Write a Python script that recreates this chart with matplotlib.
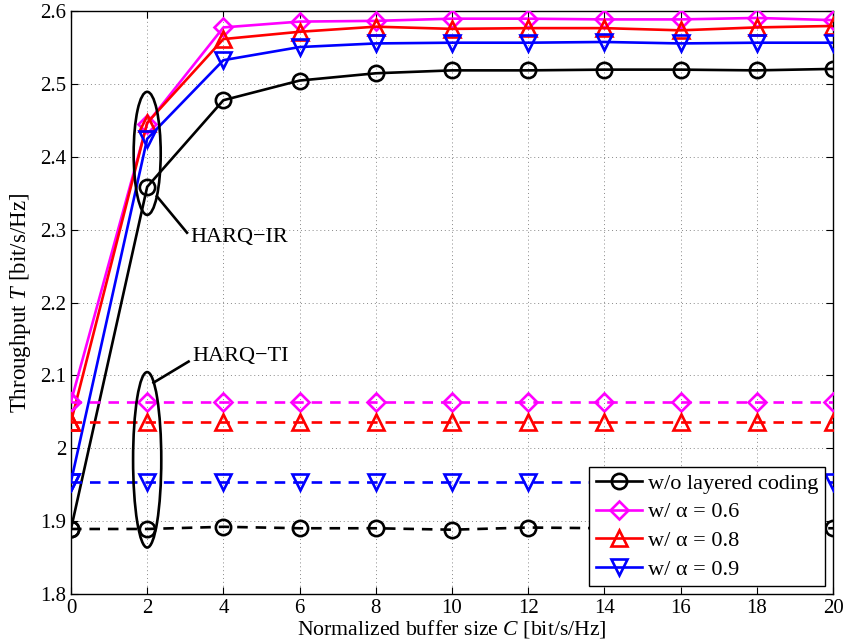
import numpy as np
import matplotlib
matplotlib.use("Agg")
import matplotlib.pyplot as plt
from matplotlib.patches import Ellipse

plt.rcParams['font.family'] = ['Liberation Serif', 'DejaVu Serif']
plt.rcParams['mathtext.fontset'] = 'custom'
plt.rcParams['mathtext.rm'] = 'Liberation Serif'
plt.rcParams['mathtext.it'] = 'Liberation Serif:italic'

C = [0, 2, 4, 6, 8, 10, 12, 14, 16, 18, 20]

ir_none = [1.889, 2.359, 2.478, 2.505, 2.515, 2.519, 2.519, 2.520, 2.520, 2.519, 2.521]
ir_06 = [2.064, 2.446, 2.578, 2.586, 2.587, 2.590, 2.590, 2.589, 2.589, 2.591, 2.588]
ir_08 = [2.036, 2.447, 2.562, 2.572, 2.579, 2.576, 2.577, 2.577, 2.574, 2.578, 2.580]
ir_09 = [1.954, 2.425, 2.533, 2.551, 2.556, 2.557, 2.557, 2.558, 2.556, 2.557, 2.557]

ti_none = [1.889, 1.889, 1.892, 1.890, 1.890, 1.888, 1.891, 1.890, 1.890, 1.890, 1.890]
ti_06 = [2.064] * 11
ti_08 = [2.036] * 11
ti_09 = [1.954] * 11

labels = ['w/o layered coding', 'w/ α = 0.6', 'w/ α = 0.8', 'w/ α = 0.9']
colors = ['black', '#ff00ff', 'red', 'blue']
markers = ['o', 'D', '^', 'v']
msizes = [11, 9.5, 12, 12]

fig = plt.figure(figsize=(8.47, 6.44), dpi=100)
ax = fig.add_axes([0.0838, 0.0780, 0.8997, 0.9043])

ir = [ir_none, ir_06, ir_08, ir_09]
ti = [ti_none, ti_06, ti_08, ti_09]
for y, c, m, ms, lab in zip(ir, colors, markers, msizes, labels):
    ax.plot(C, y, color=c, lw=1.9, marker=m, ms=ms, mfc='none', mec=c, mew=1.9,
            label=lab, zorder=3)
for y, c, m, ms in zip(ti, colors, markers, msizes):
    ax.plot(C, y, color=c, lw=1.9, ls=(0, (4, 3)), marker=m, ms=ms, mfc='none',
            mec=c, mew=1.9, zorder=3)

ax.set_xlim(0, 20)
ax.set_ylim(1.8, 2.6)
ax.set_xticks(range(0, 21, 2))
ax.set_yticks(np.arange(1.8, 2.61, 0.1))
ax.set_yticklabels(['1.8', '1.9', '2', '2.1', '2.2', '2.3', '2.4', '2.5', '2.6'])
ax.grid(True, ls=(0, (1, 3)), color='#888888', lw=0.7)
ax.tick_params(direction='in', top=True, right=True, labelsize=15, length=5)
for s in ax.spines.values():
    s.set_linewidth(1.0)

ax.set_xlabel('Normalized buffer size $C$ [bit/s/Hz]', fontsize=15.7, labelpad=0)
ax.set_ylabel('Throughput $T$ [bit/s/Hz]', fontsize=16.5, labelpad=5)

# Annotations
ax.add_patch(Ellipse((2, 2.405), 0.71, 0.169, fill=False, ec='black', lw=1.9, zorder=4))
ax.plot([2.255, 3.045], [2.346, 2.296], color='black', lw=1.9, zorder=4)
ax.text(3.13, 2.289, 'HARQ−IR', fontsize=16, va='center', ha='left')
ax.add_patch(Ellipse((2, 1.984), 0.74, 0.241, fill=False, ec='black', lw=1.9, zorder=4))
ax.plot([2.166, 3.087], [2.090, 2.119], color='black', lw=1.9, zorder=4)
ax.text(3.18, 2.126, 'HARQ−TI', fontsize=16, va='center', ha='left')

leg = ax.legend(loc='lower right', fontsize=16, frameon=True, fancybox=False,
                edgecolor='black', framealpha=1, borderaxespad=0.34, handlelength=2.1,
                labelspacing=0.36, handletextpad=0.27, borderpad=0.3)
leg.get_frame().set_linewidth(1.0)
leg.set_zorder(5)

fig.savefig('out.png', dpi=100)
